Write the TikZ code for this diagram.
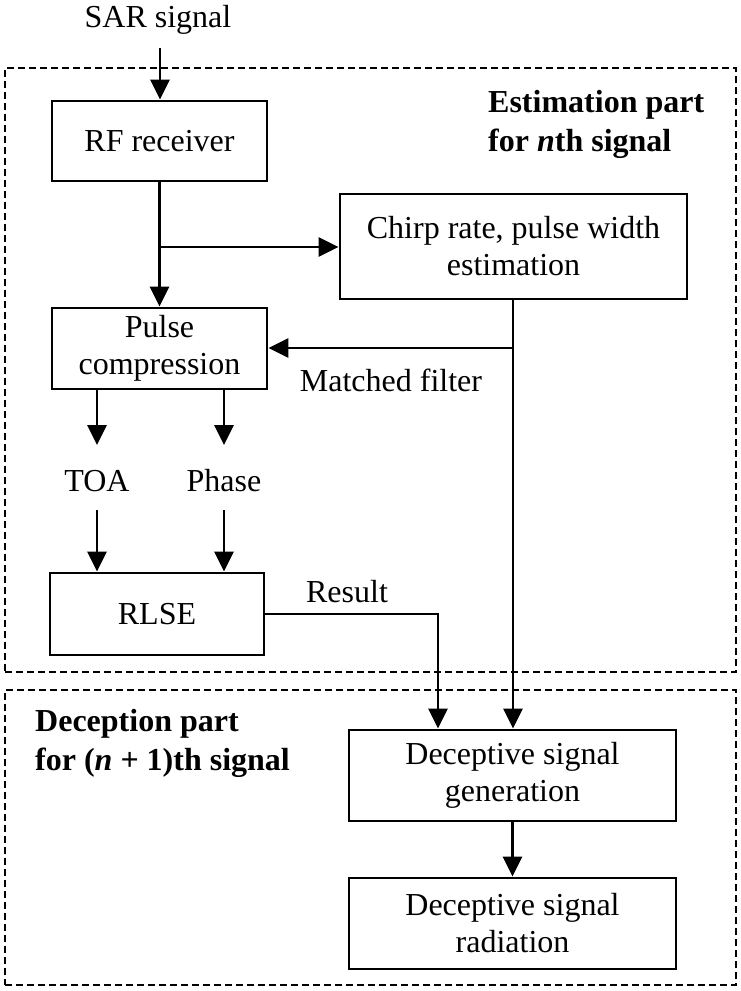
\documentclass[tikz,border=0pt]{standalone}
\usepackage{fontspec}
\setmainfont{Liberation Serif}
\usetikzlibrary{arrows.meta}
\begin{document}
\begin{tikzpicture}[x=1pt,y=-1pt,
  every node/.style={font=\fontsize{32}{37}\selectfont, inner sep=0pt},
  blk/.style={draw, line width=2.8pt, align=center, minimum width=#1},
  blk/.default=215pt,
  arr/.style={line width=2.8pt, -{Triangle[length=20pt,width=19pt]}},
  ln/.style={line width=2.8pt},
  part/.style={draw, line width=2.2pt, dash pattern=on 7pt off 4pt},
  lab/.style={font=\bfseries\fontsize{32}{39}\selectfont, align=left, anchor=west}]
\useasboundingbox (0,0) rectangle (740,991);
\fill[white] (0,0) rectangle (740,991);
% dashed parts
\node[part, minimum width=731pt, minimum height=604pt] (est) at (370.5,370) {};
\node[part, minimum width=731pt, minimum height=295pt] (dec) at (370.5,837.5) {};
% labels of parts
\node[lab] (estl) at (488,124) {Estimation part\\for \textit{n}th signal};
\node[lab] (decl) at (35,743) {Deception part\\for (\textit{n} + 1)th signal};
% blocks
\node (sar) at (158,20) {SAR signal};
\node[blk=215pt, minimum height=80pt] (rf) at (159.5,141) {RF receiver};
\node[blk=347pt, minimum height=105pt] (chirp) at (513.5,246.5) {Chirp rate, pulse width\\estimation};
\node[blk=215pt, minimum height=81pt] (pulse) at (159.5,348.5) {Pulse\\compression};
\node (toa) at (97,481) {TOA};
\node (phase) at (224,481) {Phase};
\node[blk=214pt, minimum height=82pt] (rlse) at (157,614) {RLSE};
\node[blk=327pt, minimum height=91pt] (gen) at (512.5,775.5) {Deceptive signal\\generation};
\node[blk=327pt, minimum height=91pt] (rad) at (512.5,923.5) {Deceptive signal\\radiation};
\node (mf) at (391,380) {Matched filter};
\node (res) at (347,592) {Result};
% coordinates
\coordinate (sartop) at (160,48);
\coordinate (j1) at (160,247);
\coordinate (mj) at (513,348);
\coordinate (rc) at (438,614);
\coordinate (toatop) at (97,445);
\coordinate (phtop) at (224,445);
\coordinate (toabot) at (97,510);
\coordinate (phbot) at (224,510);
% connectors
\draw[arr] (sartop) -- (rf.north -| sartop);
\draw[arr] (rf.south) -- (pulse.north);
\draw[arr] (j1) -- (chirp.west |- j1);
\draw[ln] (chirp.south -| mj) -- (mj);
\draw[arr] (mj) -- (pulse.east |- mj);
\draw[arr] (mj) -- (gen.north -| mj);
\draw[arr] (pulse.south -| toatop) -- (toatop);
\draw[arr] (pulse.south -| phtop) -- (phtop);
\draw[arr] (toabot) -- (rlse.north -| toabot);
\draw[arr] (phbot) -- (rlse.north -| phbot);
\draw[arr] (rlse.east) -- (rc) -- (gen.north -| rc);
\draw[arr] (gen.south) -- (rad.north);
\end{tikzpicture}
\end{document}
